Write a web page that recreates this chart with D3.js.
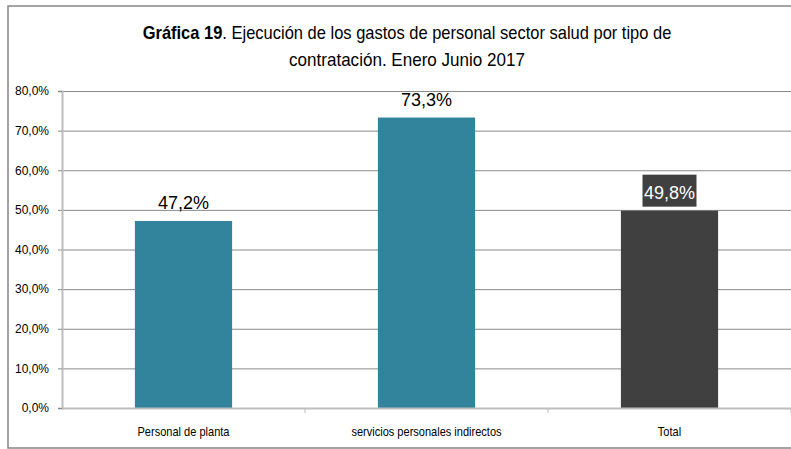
<html>
  <head>
    <meta charset="utf-8">
    <script src="https://cdn.jsdelivr.net/npm/d3@7"></script>
    <style>
      body { margin: 0; background: #fff; }
      text { font-family: "Liberation Sans", Arial, sans-serif; }
    </style>
  </head>
  <body>
<div id="chart"></div>
<script>

let width = 791;
let height = 449;

// data
let categories = ['Personal de planta', 'servicios personales indirectos', 'Total'];
let values = [0.472, 0.733, 0.498];
let barColors = ['#31849b', '#31849b', '#404040'];
let yTicks = [0, 0.1, 0.2, 0.3, 0.4, 0.5, 0.6, 0.7, 0.8];

let plot = {left: 62, right: 791, top: 91, bottom: 408};

let fmt = d => d3.format('.1f')(d * 100).replace('.', ',') + '%';

let svg = d3.select('#chart')
    .append('svg')
    .attr('width', width)
    .attr('height', height);

// outer frame
svg.append('rect')
    .attr('x', 8).attr('y', 6)
    .attr('width', 800).attr('height', 442)
    .attr('fill', 'none')
    .attr('stroke', '#868686')
    .attr('stroke-width', 1.5);

let x = d3.scaleBand()
    .domain(categories)
    .range([plot.left, plot.right])
    .paddingInner(0.6)
    .paddingOuter(0.3);

let xBoundary = d3.scaleLinear()
    .domain([0, categories.length])
    .range([plot.left, plot.right]);

let y = d3.scaleLinear()
    .domain([0, 0.8])
    .range([plot.bottom, plot.top]);

// gridlines + y axis
let yAxis = d3.axisLeft(y)
    .tickValues(yTicks)
    .tickFormat(fmt)
    .tickSize(4)
    .tickPadding(9);

svg.append('g')
    .attr('class', 'grid')
    .selectAll('line')
    .data(yTicks.slice(1))
    .join('line')
    .attr('x1', plot.left).attr('x2', plot.right)
    .attr('y1', d => y(d) + 0.5).attr('y2', d => y(d) + 0.5)
    .attr('stroke', '#8a8a8a')
    .attr('stroke-width', 1);

let gy = svg.append('g')
    .attr('transform', `translate(${plot.left},0)`)
    .call(yAxis);
gy.select('.domain').attr('stroke', '#bdbdbd').attr('stroke-width', 2);
gy.selectAll('.tick line').attr('stroke', '#8a8a8a');
gy.selectAll('.tick text')
    .attr('font-size', 12)
    .attr('fill', '#000');

// bars
svg.append('g')
    .selectAll('rect')
    .data(values)
    .join('rect')
    .attr('x', (d, i) => x(categories[i]))
    .attr('y', d => y(d))
    .attr('width', x.bandwidth())
    .attr('height', d => y(0) - y(d))
    .attr('fill', (d, i) => barColors[i]);

// x axis
let gx = svg.append('g');
gx.append('line')
    .attr('x1', plot.left).attr('x2', plot.right)
    .attr('y1', plot.bottom + 0.5).attr('y2', plot.bottom + 0.5)
    .attr('stroke', '#bdbdbd').attr('stroke-width', 2);
gx.selectAll('.xtick')
    .data(d3.range(1, categories.length + 1))
    .join('line')
    .attr('class', 'xtick')
    .attr('x1', d => xBoundary(d)).attr('x2', d => xBoundary(d))
    .attr('y1', plot.bottom).attr('y2', plot.bottom + 5)
    .attr('stroke', '#bdbdbd').attr('stroke-width', 1);
gx.selectAll('.xlabel')
    .data(categories)
    .join('text')
    .attr('class', 'xlabel')
    .attr('x', d => x(d) + x.bandwidth() / 2)
    .attr('y', 436)
    .attr('text-anchor', 'middle')
    .attr('font-size', 12)
    .attr('transform', d => `translate(${x(d) + x.bandwidth() / 2},0) scale(0.92,1) translate(${-(x(d) + x.bandwidth() / 2)},0)`)
    .text(d => d);

// value labels
let labels = svg.append('g')
    .selectAll('g')
    .data(values)
    .join('g')
    .attr('transform', (d, i) => `translate(${x(categories[i]) + x.bandwidth() / 2},${y(d)})`);

labels.filter((d, i) => i === 2)
    .append('rect')
    .attr('x', -27).attr('y', -36)
    .attr('width', 54).attr('height', 32)
    .attr('fill', '#404040');

labels.append('text')
    .attr('text-anchor', 'middle')
    .attr('y', -12)
    .attr('font-size', 18)
    .attr('fill', (d, i) => i === 2 ? '#fff' : '#000')
    .text(fmt);

// title: narrow the lines horizontally to match the condensed look
function titleLine(yPos, targetWidth, parts) {
  let g = svg.append('g');
  let t = g.append('text')
      .attr('x', 0)
      .attr('y', yPos)
      .attr('text-anchor', 'middle')
      .attr('font-size', 19);
  parts.forEach(p => t.append('tspan').attr('font-weight', p.bold ? 'bold' : null).text(p.text));
  let sx = targetWidth / t.node().getComputedTextLength();
  g.attr('transform', `translate(407,0) scale(${sx},1)`);
}

titleLine(39, 529, [
  {text: 'Gráfica 19', bold: true},
  {text: '. Ejecución de los gastos de personal sector salud por tipo de'}
]);
titleLine(66, 236, [{text: 'contratación. Enero Junio  2017'}]);

</script>
  </body>
</html>
